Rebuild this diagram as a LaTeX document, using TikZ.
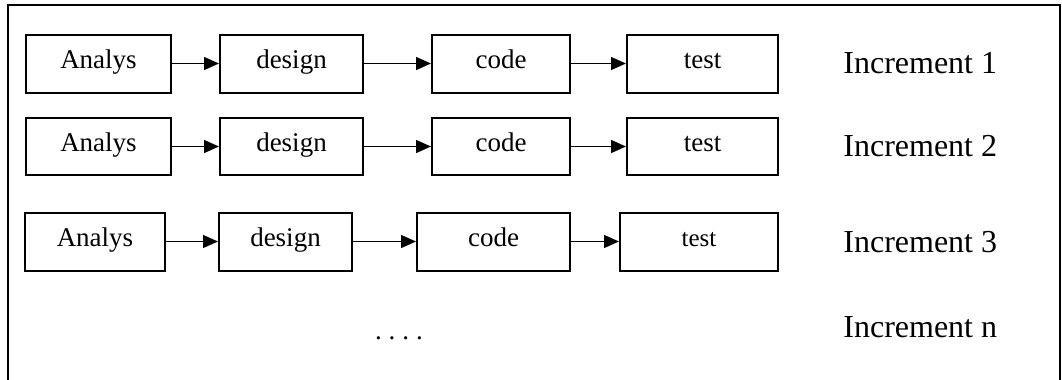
\documentclass[tikz,border=0pt]{standalone}
\usepackage{fontspec}
\setmainfont{Liberation Serif}
\usetikzlibrary{arrows.meta}

\begin{document}
\begin{tikzpicture}[x=0.5pt, y=-0.5pt,
    phase/.style={draw, line width=1pt, minimum height=29pt, inner sep=0pt,
        text height=9pt, text depth=4pt,
        font=\fontsize{13.5}{16}\selectfont},
    flow/.style={-{Triangle[length=7.5pt, width=6.5pt]}, line width=0.7pt},
    incr/.style={anchor=west, inner sep=0pt, font=\fontsize{16}{19}\selectfont}]

    \useasboundingbox (0,0) rectangle (1062,380);

    % Frame
    \draw[line width=1pt] (8,380) -- (8,5) -- (1060,5) -- (1060,380);

    %% Increment 1
    \node[phase, minimum width=72.5pt] (a1) at (98.5,63.5) {Analys};
    \node[phase, minimum width=71.5pt] (d1) at (291.5,63.5) {design};
    \node[phase, minimum width=69pt] (c1) at (501,63.5) {code};
    \node[phase, minimum width=75.5pt] (t1) at (702.5,63.5) {test};
    \draw[flow] (a1) -- (d1);
    \draw[flow] (d1) -- (c1);
    \draw[flow] (c1) -- (t1);
    \node[incr] (i1) at (843,63) {Increment 1};

    %% Increment 2
    \node[phase, minimum width=72.5pt, minimum height=28.5pt] (a2) at (98.5,146.5) {Analys};
    \node[phase, minimum width=71.5pt, minimum height=28.5pt] (d2) at (291.5,146.5) {design};
    \node[phase, minimum width=69pt, minimum height=28.5pt] (c2) at (501,146.5) {code};
    \node[phase, minimum width=75.5pt, minimum height=28.5pt] (t2) at (702.5,146.5) {test};
    \draw[flow] (a2) -- (d2);
    \draw[flow] (d2) -- (c2);
    \draw[flow] (c2) -- (t2);
    \node[incr] (i2) at (843,146) {Increment 2};

    %% Increment 3
    \node[phase, minimum width=70pt] (a3) at (95,241.5) {Analys};
    \node[phase, minimum width=66.5pt] (d3) at (285.5,241.5) {design};
    \node[phase, minimum width=76.5pt] (c3) at (493.5,241.5) {code};
    \node[phase, minimum width=79pt, font=\fontsize{12.5}{15}\selectfont] (t3) at (699,241.5) {test};
    \draw[flow] (a3) -- (d3);
    \draw[flow] (d3) -- (c3);
    \draw[flow] (c3) -- (t3);
    \node[incr] (i3) at (843,242) {Increment 3};

    %% Increment n
    \node[font=\fontsize{13.5}{16}\selectfont] (dots) at (399,338) {.\hspace{3.5pt}.\hspace{3.5pt}.\hspace{3.5pt}.};
    \node[incr] (in) at (843,327) {Increment n};

\end{tikzpicture}
\end{document}
